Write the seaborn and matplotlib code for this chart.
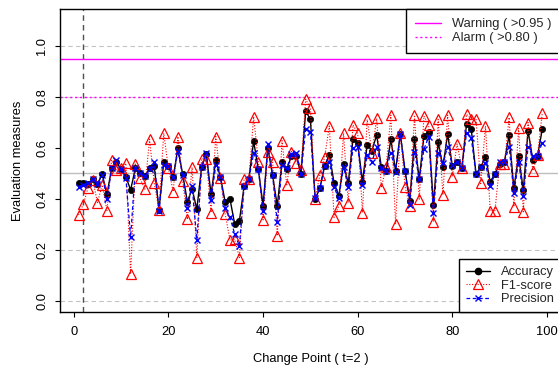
import matplotlib
matplotlib.use("Agg")
import matplotlib.pyplot as plt
from matplotlib.lines import Line2D
import seaborn as sns

change_points = list(range(1, 100))
accuracy = [0.462, 0.462, 0.458, 0.477, 0.459, 0.497, 0.418, 0.520, 0.546, 0.516,
            0.488, 0.435, 0.520, 0.503, 0.490, 0.520, 0.529, 0.357, 0.545, 0.529,
            0.485, 0.599, 0.497, 0.390, 0.439, 0.360, 0.524, 0.577, 0.418, 0.553,
            0.485, 0.387, 0.400, 0.302, 0.315, 0.451, 0.479, 0.627, 0.516, 0.374,
            0.599, 0.494, 0.373, 0.546, 0.516, 0.569, 0.569, 0.498, 0.745, 0.712,
            0.400, 0.442, 0.529, 0.573, 0.464, 0.412, 0.537, 0.462, 0.634, 0.618,
            0.468, 0.612, 0.590, 0.651, 0.524, 0.511, 0.634, 0.511, 0.655, 0.511,
            0.394, 0.634, 0.477, 0.647, 0.664, 0.377, 0.625, 0.524, 0.655, 0.529,
            0.546, 0.520, 0.694, 0.673, 0.498, 0.524, 0.566, 0.468, 0.498, 0.537,
            0.546, 0.651, 0.442, 0.569, 0.435, 0.668, 0.553, 0.569, 0.673]
f1_score = [0.337, 0.379, 0.444, 0.475, 0.386, 0.455, 0.354, 0.553, 0.514, 0.520,
            0.540, 0.105, 0.537, 0.481, 0.438, 0.634, 0.462, 0.357, 0.658, 0.520,
            0.429, 0.645, 0.472, 0.320, 0.524, 0.170, 0.558, 0.557, 0.347, 0.645,
            0.484, 0.340, 0.239, 0.242, 0.170, 0.479, 0.479, 0.723, 0.547, 0.318,
            0.586, 0.547, 0.255, 0.629, 0.455, 0.586, 0.543, 0.514, 0.791, 0.756,
            0.400, 0.494, 0.563, 0.686, 0.328, 0.373, 0.658, 0.386, 0.690, 0.658,
            0.347, 0.712, 0.582, 0.716, 0.445, 0.527, 0.729, 0.302, 0.660, 0.449,
            0.373, 0.729, 0.399, 0.725, 0.690, 0.311, 0.712, 0.416, 0.729, 0.488,
            0.616, 0.520, 0.732, 0.714, 0.714, 0.461, 0.686, 0.354, 0.354, 0.537,
            0.537, 0.720, 0.370, 0.677, 0.350, 0.700, 0.511, 0.573, 0.736]
precision = [0.449, 0.455, 0.462, 0.479, 0.459, 0.494, 0.399, 0.520, 0.553, 0.516,
             0.484, 0.250, 0.520, 0.501, 0.490, 0.516, 0.546, 0.354, 0.533, 0.529,
             0.485, 0.588, 0.494, 0.366, 0.451, 0.239, 0.524, 0.582, 0.396, 0.533,
             0.485, 0.366, 0.328, 0.263, 0.216, 0.451, 0.479, 0.579, 0.516, 0.354,
             0.614, 0.494, 0.311, 0.533, 0.520, 0.577, 0.582, 0.498, 0.673, 0.664,
             0.403, 0.442, 0.529, 0.546, 0.446, 0.403, 0.527, 0.446, 0.599, 0.605,
             0.455, 0.573, 0.546, 0.605, 0.520, 0.511, 0.582, 0.507, 0.655, 0.511,
             0.377, 0.586, 0.477, 0.595, 0.645, 0.347, 0.582, 0.543, 0.603, 0.533,
             0.546, 0.520, 0.658, 0.638, 0.498, 0.524, 0.540, 0.451, 0.498, 0.546,
             0.546, 0.605, 0.425, 0.546, 0.412, 0.605, 0.569, 0.569, 0.621]

x_ticks = [0, 20, 40, 60, 80, 100]
y_ticks = [0.0, 0.2, 0.4, 0.6, 0.8, 1.0]
y_tick_labels = ["0.0", "0.2", "0.4", "0.6", "0.8", "1.0"]
warning_level = 0.95
alarm_level = 0.80
change_point = 2
grid_dashed = [0.0, 0.2, 0.8, 1.0]
mid_line = 0.5

sns.set_theme(style="ticks")
plt.rcParams['font.family'] = ['Liberation Sans', 'DejaVu Sans']

W, H = 558, 370
fig = plt.figure(figsize=(W / 100, H / 100), dpi=100)
top_px, bot_px, left_px, right_px = 9.3, 312.2, 60.0, 560.8
ax = fig.add_axes([left_px / W, (H - bot_px) / H, (right_px - left_px) / W, (bot_px - top_px) / H])
ax.set_facecolor("white")
ax.set_xlim(1 - 0.04 * 98, 99 + 0.04 * 98)
ax.set_ylim(-0.044, 1.144)

for yv in grid_dashed:
    ax.axhline(yv, color="#c4c4c4", ls=(0, (4, 3)), lw=0.8, zorder=1)
ax.axhline(mid_line, color="#bdbdbd", lw=1.0, zorder=1)
ax.axvline(change_point, color="#505050", ls=(0, (4, 3)), lw=1.0, zorder=1)
ax.axhline(warning_level, color="#ff00ff", lw=1.0, zorder=2)
ax.axhline(alarm_level, color="#ff00ff", ls=(0, (1.5, 2)), lw=1.0, zorder=2)

sns.lineplot(x=change_points, y=accuracy, ax=ax, color="black", lw=1.0,
             marker="o", markersize=4.5, markerfacecolor="black",
             markeredgecolor="black", markeredgewidth=0.5, zorder=3)
sns.lineplot(x=change_points, y=f1_score, ax=ax, color="red", lw=0.8,
             ls=(0, (1, 1.5)), marker="^", markersize=6.8, markerfacecolor="none",
             markeredgecolor="red", markeredgewidth=0.9, zorder=4)
sns.lineplot(x=change_points, y=precision, ax=ax, color="blue", lw=0.9,
             ls=(0, (3, 2)), marker="x", markersize=4.8,
             markeredgecolor="blue", markeredgewidth=1.0, zorder=5)

for s in ax.spines.values():
    s.set_color("black")
    s.set_linewidth(1.0)

fs = 9.3
ax.set_xticks(x_ticks)
ax.set_yticks(y_ticks)
ax.set_yticklabels(y_tick_labels)
ax.tick_params(axis="both", direction="out", length=3.6, width=0.8, colors="black",
               labelsize=fs)
ax.tick_params(axis="x", pad=6.0)
ax.tick_params(axis="y", labelrotation=90, pad=5.0)
for lab in ax.get_yticklabels():
    lab.set_va("center")
ax.set_xlabel("Change Point ( t=2 )", fontsize=fs, labelpad=11, color="black")
ax.set_ylabel("Evaluation measures", fontsize=fs, labelpad=9, color="black")

h_top = [Line2D([], [], color="#ff00ff", lw=1.0),
         Line2D([], [], color="#ff00ff", lw=1.0, ls=(0, (1.5, 2)))]
leg1 = ax.legend(h_top, ["Warning ( >0.95 )", "Alarm ( >0.80 )"], loc="upper right",
                 bbox_to_anchor=(1, 1), borderaxespad=0, frameon=True, fancybox=False,
                 edgecolor="black", framealpha=1, fontsize=fs, handlelength=2.0,
                 handletextpad=0.85, borderpad=0.7, labelspacing=0.15)
leg1.get_frame().set_linewidth(1.0)
leg1.set_zorder(10)
ax.add_artist(leg1)

h_bot = [Line2D([], [], color="black", lw=1.0, marker="o", markersize=4.5),
         Line2D([], [], color="red", lw=0.8, ls=(0, (1, 1.5)), marker="^", markersize=6.8,
                markerfacecolor="none", markeredgecolor="red", markeredgewidth=0.9),
         Line2D([], [], color="blue", lw=0.9, ls=(0, (3, 2)), marker="x", markersize=4.8,
                markeredgewidth=1.0)]
leg2 = ax.legend(h_bot, ["Accuracy", "F1-score", "Precision"], loc="lower right",
                 bbox_to_anchor=(1, 0), borderaxespad=0, frameon=True, fancybox=False,
                 edgecolor="black", framealpha=1, fontsize=fs, handlelength=1.9,
                 handletextpad=0.8, borderpad=0.55, labelspacing=0.1)
leg2.get_frame().set_linewidth(1.0)
leg2.set_zorder(10)

fig.savefig("out.png", dpi=100)
